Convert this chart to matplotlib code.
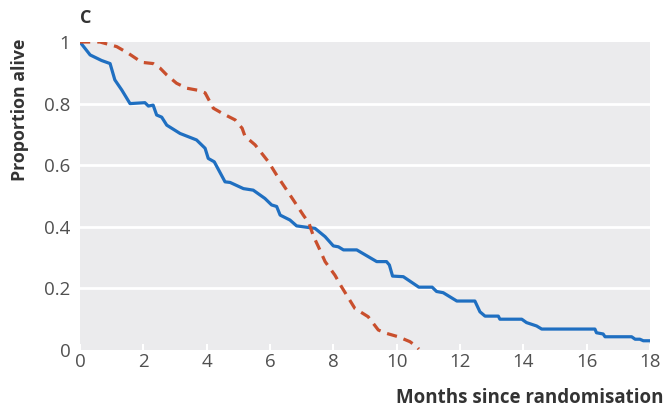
import matplotlib
matplotlib.use("Agg")
import matplotlib.pyplot as plt

# Blue (solid) survival curve
blue_t = [0, 0.32, 0.68, 0.95, 1.1, 1.32, 1.58, 2.05, 2.16, 2.31, 2.42, 2.58, 2.74, 3.16, 3.68,
          3.95, 4.05, 4.24, 4.58, 4.74, 5.16, 5.47, 5.84, 6.05, 6.21, 6.32, 6.63, 6.84, 7.05,
          7.42, 7.74, 8.0, 8.16, 8.32, 8.74, 9.37, 9.68, 9.77, 9.87, 10.21, 10.7, 11.12, 11.26,
          11.47, 11.9, 12.47, 12.63, 12.79, 13.21, 13.26, 13.95, 14.1, 14.42, 14.58, 16.26,
          16.31, 16.52, 16.58, 17.42, 17.53, 17.68, 17.79, 18.0]
blue_s = [1.0, 0.958, 0.94, 0.93, 0.877, 0.844, 0.80, 0.803, 0.792, 0.795, 0.763, 0.756, 0.73,
          0.703, 0.682, 0.655, 0.622, 0.611, 0.546, 0.544, 0.524, 0.519, 0.492, 0.471, 0.466,
          0.438, 0.422, 0.403, 0.40, 0.395, 0.368, 0.338, 0.335, 0.325, 0.325, 0.287, 0.287,
          0.276, 0.24, 0.238, 0.204, 0.204, 0.19, 0.186, 0.159, 0.159, 0.124, 0.11, 0.11, 0.10,
          0.10, 0.089, 0.078, 0.068, 0.068, 0.056, 0.052, 0.043, 0.043, 0.035, 0.035, 0.03, 0.03]

# Red (dashed) survival curve
red_t = [0, 0.63, 1.16, 1.53, 1.95, 2.31, 2.53, 2.74, 3.05, 3.37, 3.74, 3.95, 4.21, 4.5, 4.9,
         5.12, 5.21, 5.53, 5.95, 6.21, 6.53, 6.84, 7.05, 7.23, 7.37, 7.53, 7.74, 8.05, 8.26,
         8.68, 9.1, 9.42, 9.68, 10.05, 10.42, 10.63, 10.7]
red_s = [1.0, 1.0, 0.985, 0.963, 0.934, 0.93, 0.915, 0.893, 0.866, 0.85, 0.843, 0.835, 0.785,
         0.768, 0.747, 0.72, 0.694, 0.666, 0.611, 0.568, 0.519, 0.471, 0.438, 0.412, 0.37,
         0.335, 0.287, 0.243, 0.205, 0.135, 0.108, 0.065, 0.054, 0.043, 0.027, 0.011, 0.003]

x_ticks = [0, 2, 4, 6, 8, 10, 12, 14, 16, 18]
y_ticks = [0, 0.2, 0.4, 0.6, 0.8, 1.0]
y_tick_labels = ["0", "0.2", "0.4", "0.6", "0.8", "1"]

plt.rcParams['font.family'] = ['Open Sans', 'DejaVu Sans']

fig = plt.figure(figsize=(6.64, 4.08), dpi=100)
ax = fig.add_axes([80/664, 1 - 350/408, 570/664, 308/408])
ax.set_facecolor('#ebebed')
for s in ax.spines.values():
    s.set_visible(False)

for y in y_ticks[1:-1]:
    ax.axhline(y, color='white', lw=2.0, zorder=1)

ax.plot(blue_t, blue_s, color='#1f6fc1', lw=2.3, zorder=3)
ax.plot(red_t, red_s, color='#c94f2d', lw=2.3, ls=(0, (3.2, 2.2)), zorder=3)

ax.set_xlim(0, 18)
ax.set_ylim(0, 1)
ax.set_xticks(x_ticks)
ax.set_xticklabels([str(v) for v in x_ticks])
ax.set_yticks(y_ticks)
ax.set_yticklabels(y_tick_labels)
ax.tick_params(axis='x', direction='in', length=4, width=1.5, color='white', pad=2,
               labelsize=13.5, labelcolor='#505050')
ax.tick_params(axis='y', length=0, pad=7, labelsize=13.5, labelcolor='#505050')

fig.text(20/664, 1 - 110/408, 'Proportion alive', rotation=90, ha='center', va='center',
         fontsize=12.8, fontweight='bold', color='#333333')
fig.text(664/664, 1 - 398/408, 'Months since randomisation', ha='right', va='center',
         fontsize=13.5, fontweight='bold', color='#333333')
fig.text(80/664, 1 - 18/408, 'C', ha='left', va='center',
         fontsize=13, fontweight='bold', color='#333333')

fig.savefig('out.png', dpi=100)
